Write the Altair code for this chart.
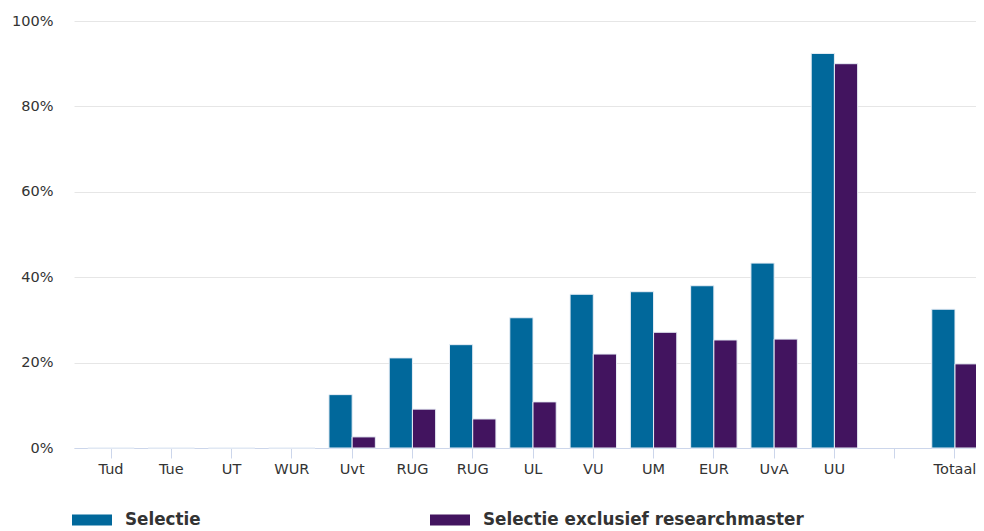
import altair as alt
import pandas as pd

categories = ["Tud", "Tue", "UT", "WUR", "Uvt", "RUG", "RUG ", "UL", "VU", "UM", "EUR", "UvA", "UU", " ", "Totaal"]
selectie = [0, 0, 0, 0, 12.5, 21.1, 24.2, 30.5, 36.0, 36.6, 38.0, 43.3, 92.4, None, 32.5]
exclusief = [0, 0, 0, 0, 2.6, 9.1, 6.8, 10.8, 22.0, 27.1, 25.3, 25.5, 90.0, None, 19.7]
series = ["Selectie", "Selectie exclusief researchmaster"]
colors = ["#01689b", "#42145f"]

rows = []
for c, a, b in zip(categories, selectie, exclusief):
    rows.append({"cat": c, "serie": series[0], "val": a})
    rows.append({"cat": c, "serie": series[1], "val": b})
df = pd.DataFrame(rows)

FONT = "DejaVu Sans"

chart = alt.Chart(df).mark_bar(stroke="#e8eef6", strokeWidth=1).encode(
    x=alt.X("cat:N", sort=categories,
            scale=alt.Scale(domain=categories, paddingInner=0.23, paddingOuter=0.229, range=[0, 918]),
            axis=alt.Axis(title=None, labelAngle=0, domainColor="#ccd6eb", domainWidth=1,
                          tickColor="#ccd6eb", tickSize=10, labelColor="#333333",
                          labelFont=FONT, labelFontSize=14.5, labelPadding=4, grid=False)),
    xOffset=alt.XOffset("serie:N", sort=series),
    y=alt.Y("val:Q", scale=alt.Scale(domain=[0, 100], nice=False),
            axis=alt.Axis(title=None, values=[0, 20, 40, 60, 80, 100],
                          labelExpr="datum.value + '%'", domain=False, ticks=False,
                          gridColor="#e6e6e6", gridWidth=1, labelColor="#333333",
                          labelFont=FONT, labelFontSize=14.5, labelPadding=21)),
    color=alt.Color("serie:N", sort=series,
                    scale=alt.Scale(domain=series, range=colors),
                    legend=alt.Legend(title=None, orient="none", legendX=-2, legendY=479,
                                      direction="horizontal", columns=2,
                                      symbolType="M-1,-0.275H1V0.275H-1Z", symbolSize=1600,
                                      symbolStrokeWidth=0, labelOffset=13,
                                      labelFont=FONT, labelFontSize=16.8, labelFontWeight="bold",
                                      labelColor="#333333", columnPadding=229, labelLimit=500)),
).properties(
    width=902, height=427,
    autosize=alt.AutoSizeParams(type="none"),
    padding={"left": 66, "top": 13, "right": 0, "bottom": 82},
).configure_view(stroke=None)

chart.save("out.html", embed_options={"renderer": "svg", "actions": False})
